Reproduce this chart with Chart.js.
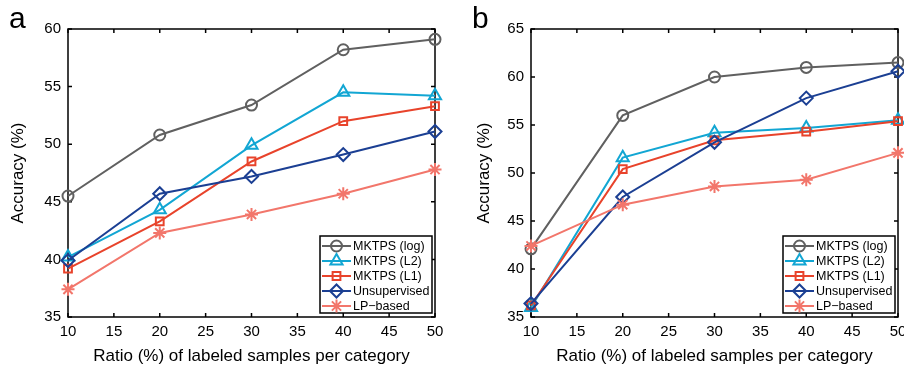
<!DOCTYPE html>
<html>
<head>
<meta charset="utf-8">
<script src="https://cdn.jsdelivr.net/npm/chart.js@4.4.0/dist/chart.umd.min.js"></script>
<style>
  html, body { margin: 0; padding: 0; background: #fff; overflow: hidden; width: 904px; height: 369px; }
  .panel { position: absolute; top: 0; }
  .tag { position: absolute; top: 1px; font: 30px "Liberation Sans", Arial, sans-serif; color: #000; }
</style>
</head>
<body>
<div class="panel" style="left:0"><canvas id="chartA" width="470" height="369"></canvas></div>
<div class="panel" style="left:470px"><canvas id="chartB" width="450" height="369"></canvas></div>
<div class="tag" style="left:9px">a</div>
<div class="tag" style="left:472px">b</div>
<script>
// ratio of labeled samples per category (%)
const ratios = [10, 20, 30, 40, 50];
const seriesNames = ['MKTPS (log)', 'MKTPS (L2)', 'MKTPS (L1)', 'Unsupervised', 'LP\u2212based'];
const xTickValues = [10, 15, 20, 25, 30, 35, 40, 45, 50];

// panel a
const aLog = [45.5, 50.8, 53.4, 58.2, 59.1];
const aL2 = [40.2, 44.3, 49.9, 54.5, 54.2];
const aL1 = [39.2, 43.3, 48.5, 52.0, 53.3];
const aUnsup = [39.9, 45.7, 47.2, 49.1, 51.1];
const aLP = [37.4, 42.3, 43.9, 45.7, 47.8];
const aYTicks = [35, 40, 45, 50, 55, 60];

// panel b
const bLog = [42.1, 56.0, 60.0, 61.0, 61.5];
const bL2 = [36.0, 51.6, 54.2, 54.7, 55.5];
const bL1 = [36.2, 50.4, 53.4, 54.3, 55.4];
const bUnsup = [36.4, 47.5, 53.2, 57.8, 60.6];
const bLP = [42.4, 46.7, 48.6, 49.3, 52.1];
const bYTicks = [35, 40, 45, 50, 55, 60, 65];

const colors = ['#606060', '#12a6d3', '#e8432b', '#1b3f93', '#f2766b'];
const markers = ['circle', 'triangle', 'rect', 'rectRot', 'star'];
const markerSizes = [5.5, 7, 5.5, 6.5, 6.5];
const FONT = '"Liberation Sans", Arial, Helvetica, sans-serif';

Chart.defaults.font.family = FONT;
Chart.defaults.color = '#000';

// MATLAB-like box with ticks pointing inwards
const boxTicks = {
  id: 'boxTicks',
  beforeDatasetsDraw(chart) {
    const {ctx, chartArea: a, scales: {x, y}} = chart;
    const len = 4;
    ctx.save();
    ctx.strokeStyle = '#000';
    ctx.lineWidth = 1.5;
    ctx.strokeRect(a.left, a.top, a.right - a.left, a.bottom - a.top);
    ctx.beginPath();
    x.ticks.forEach(t => {
      const px = x.getPixelForValue(t.value);
      ctx.moveTo(px, a.bottom); ctx.lineTo(px, a.bottom - len);
      ctx.moveTo(px, a.top); ctx.lineTo(px, a.top + len);
    });
    y.ticks.forEach(t => {
      const py = y.getPixelForValue(t.value);
      ctx.moveTo(a.left, py); ctx.lineTo(a.left + len, py);
      ctx.moveTo(a.right, py); ctx.lineTo(a.right - len, py);
    });
    ctx.stroke();
    ctx.restore();
  }
};

// legend in a framed box, lower right of the axes
const boxLegend = {
  id: 'boxLegend',
  afterDraw(chart) {
    const {ctx, chartArea: a} = chart;
    const w = 112, h = 77, rowH = 15;
    const left = a.right - 3 - w, top = a.bottom - 4 - h;
    ctx.save();
    ctx.fillStyle = '#fff';
    ctx.fillRect(left, top, w, h);
    ctx.strokeStyle = '#000';
    ctx.lineWidth = 1.5;
    ctx.strokeRect(left, top, w, h);
    chart.data.datasets.forEach((ds, i) => {
      const cy = top + 10 + i * rowH;
      ctx.strokeStyle = ds.borderColor;
      ctx.lineWidth = ds.borderWidth;
      ctx.beginPath();
      ctx.moveTo(left + 2, cy);
      ctx.lineTo(left + 31, cy);
      ctx.stroke();
      ctx.fillStyle = 'rgba(0,0,0,0)';
      ctx.lineWidth = ds.pointBorderWidth;
      Chart.helpers.drawPoint(ctx, {
        pointStyle: ds.pointStyle, radius: ds.pointRadius,
        borderWidth: ds.pointBorderWidth, rotation: 0
      }, left + 16.5, cy);
      ctx.fillStyle = '#000';
      ctx.font = '12.5px ' + FONT;
      ctx.textBaseline = 'middle';
      ctx.textAlign = 'left';
      ctx.fillText(ds.label, left + 33, cy + 0.5);
    });
    ctx.restore();
  }
};

function makePanel(id, series, yTicks, yWidth, padRight, titlePad) {
  const datasets = series.map((vals, i) => ({
    label: seriesNames[i],
    data: ratios.map((r, k) => ({x: r, y: vals[k]})),
    borderColor: colors[i],
    backgroundColor: 'rgba(0,0,0,0)',
    borderWidth: 2,
    pointStyle: markers[i],
    pointRadius: markerSizes[i],
    pointBorderWidth: 2,
    pointBorderColor: colors[i],
    pointBackgroundColor: 'rgba(0,0,0,0)',
    tension: 0,
    clip: false,
    order: 5 - i
  }));

  return new Chart(document.getElementById(id), {
    type: 'line',
    data: {datasets},
    plugins: [boxTicks, boxLegend],
    options: {
      responsive: false,
      animation: false,
      devicePixelRatio: 1,
      layout: {padding: {top: 29, right: padRight, bottom: 0, left: 0}},
      plugins: {legend: {display: false}, tooltip: {enabled: false}},
      scales: {
        x: {
          type: 'linear',
          min: xTickValues[0],
          max: xTickValues[xTickValues.length - 1],
          afterBuildTicks: s => { s.ticks = xTickValues.map(v => ({value: v})); },
          afterFit: s => { s.height = 52; },
          grid: {display: false, drawTicks: false},
          border: {display: false},
          ticks: {font: {size: 15}, padding: 6, maxRotation: 0, autoSkip: false},
          title: {
            display: true,
            text: 'Ratio (%) of labeled samples per category',
            font: {size: 17},
            padding: {top: 0, bottom: 2}
          }
        },
        y: {
          type: 'linear',
          min: yTicks[0],
          max: yTicks[yTicks.length - 1],
          afterBuildTicks: s => { s.ticks = yTicks.map(v => ({value: v})); },
          afterFit: s => { s.width = yWidth; },
          grid: {display: false, drawTicks: false},
          border: {display: false},
          ticks: {font: {size: 15}, padding: 7, autoSkip: false},
          title: {
            display: true,
            text: 'Accuracy (%)',
            font: {size: 17},
            padding: {top: titlePad, bottom: 0}
          }
        }
      }
    }
  });
}

makePanel('chartA', [aLog, aL2, aL1, aUnsup, aLP], aYTicks, 68, 35, 7.8);
makePanel('chartB', [bLog, bL2, bL1, bUnsup, bLP], bYTicks, 61, 22, 3.8);
</script>
</body>
</html>
